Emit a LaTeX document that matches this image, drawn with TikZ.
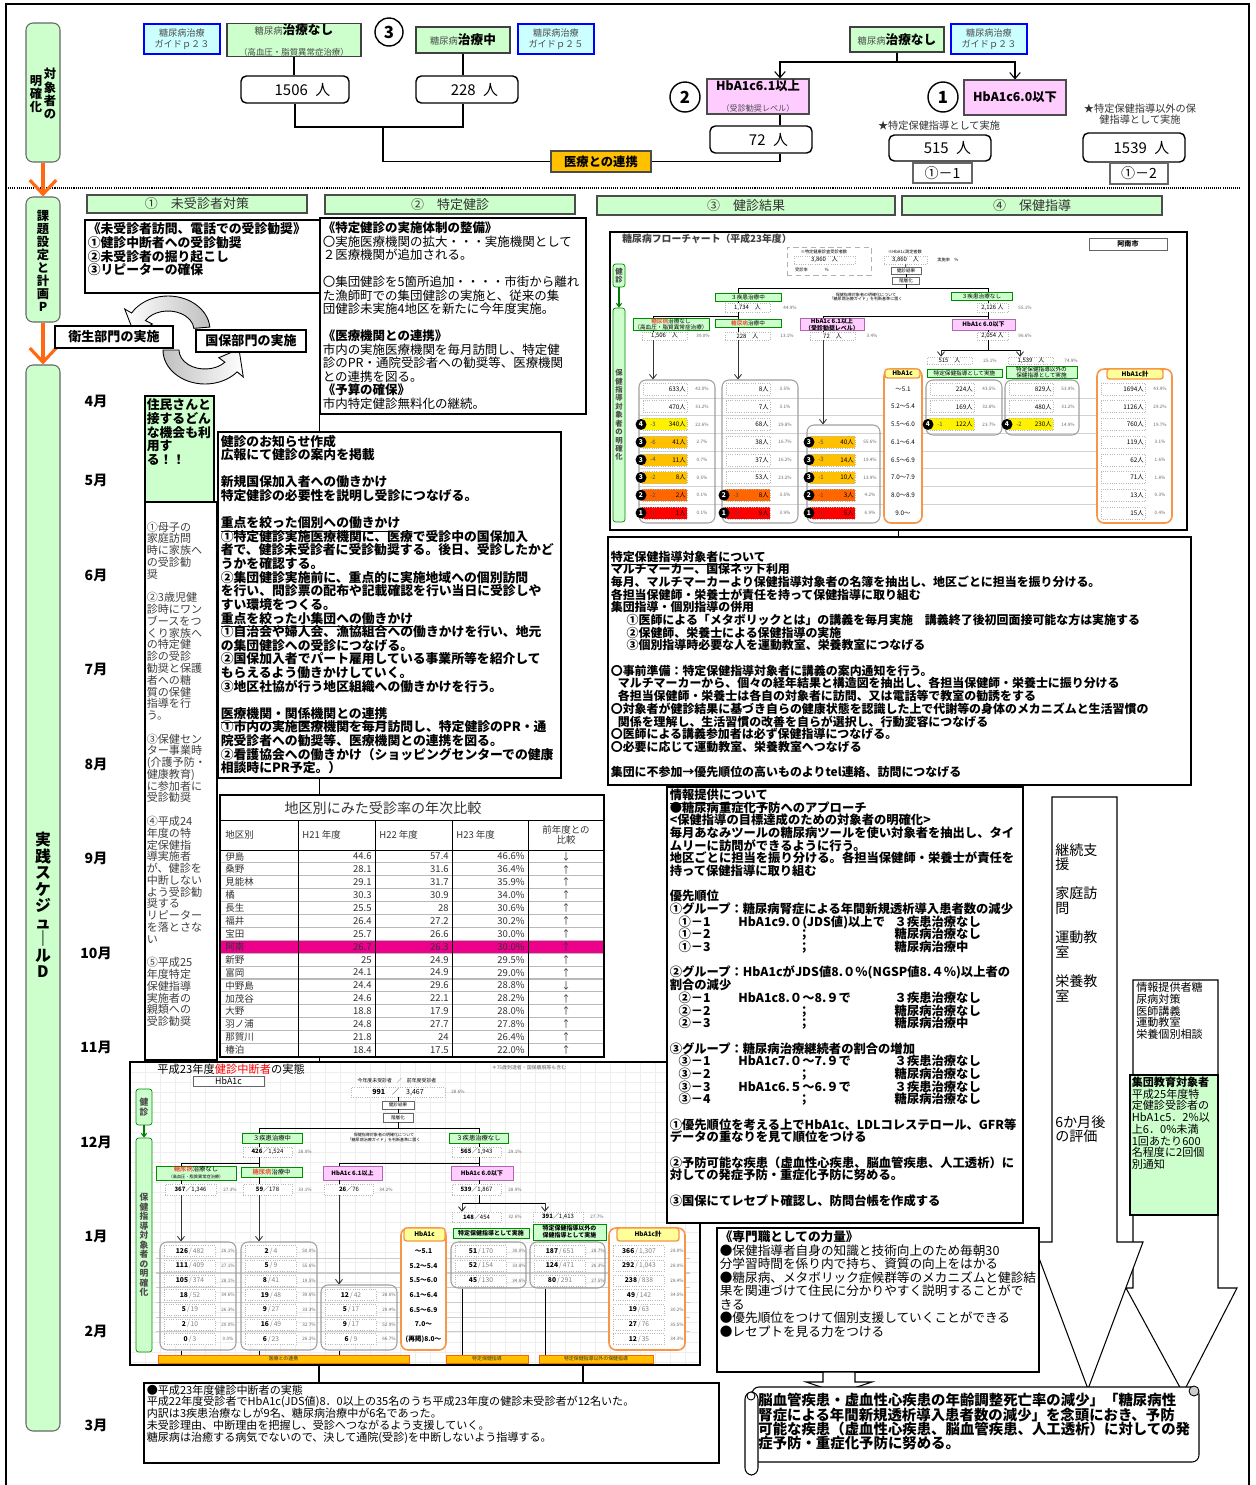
\documentclass[tikz,border=0pt]{standalone}
\usepackage{fontspec}
\setmainfont{Noto Sans CJK JP}
\usetikzlibrary{positioning, calc, arrows.meta, shapes.geometric}
\definecolor{usuMidori}{HTML}{CCFFCC}
\definecolor{usuMizu}{HTML}{CCFFFF}
\definecolor{usuMomo}{HTML}{FFCCFF}
\definecolor{yamabuki}{HTML}{FFC000}
\definecolor{daidai}{HTML}{FF6600}
\definecolor{kiLabel}{HTML}{FFFF99}
\definecolor{hbaWaku}{HTML}{F79646}
\definecolor{yaji}{HTML}{FF6A10}
\setlength\lineskiplimit{-100pt}
\newcommand\fsz[2]{\fontsize{#1}{#2}\selectfont}
% cells of the two flow charts
\newcommand\flowFill[3]{\pgfmathsetmacro\cy{389+17.7*#2}\fill[#3] (#1+3,\cy-6) rectangle (#1+48,\cy+6);}
\newcommand\flowCell[4]{%
  \pgfmathsetmacro\cy{389+17.7*#2}%
  \draw[cellb] (#1+4,\cy-6) rectangle (#1+48,\cy+6);%
  \node[anchor=east, inner sep=0pt, font=\fsz{3.6}{4}] at (#1+47,\cy) {#3};%
  \node[ptxt] at (#1+63,\cy) {#4};}
\newcommand\flowMark[4]{%
  \pgfmathsetmacro\cy{389+17.7*#2}%
  \node[circle, fill=black, text=white, inner sep=0pt, minimum size=0.22cm, font=\fsz{3.8}{4}\bfseries] at (#1+2,\cy) {#3};%
  \node[inner sep=0pt, font=\fsz{3.4}{4}, text=black!70] at (#1+14,\cy) {-#4};}
\newcommand\chuCell[5]{%
  \pgfmathsetmacro\cy{1251+14.7*#2}%
  \draw[cellb, fill=white] (#1+4,\cy-5.5) rectangle (#1+55,\cy+5.5);%
  \node[inner sep=0pt, font=\fsz{3.8}{4}] at (#1+30,\cy) {{\bfseries #3}\,{\color{black!50}/\,#4}};%
  \node[ptxt] at (#1+68,\cy) {#5};}
\newcommand\gyo[3]{\hspace*{5pt}\makebox[34pt][l]{#1}\makebox[89pt][l]{#2}#3}

\begin{document}
\begin{tikzpicture}[x=0.02cm, y=-0.02cm,
    wh/.style 2 args={minimum width=#1*0.02cm, minimum height=#2*0.02cm, inner sep=0pt},
    txt/.style={anchor=north west, inner sep=0pt, align=left},
    waku/.style={draw, line width=0.6pt},
    bluebox/.style={draw=blue, line width=0.9pt, fill=usuMizu, align=center, font=\fsz{5.2}{6.6}, text=black!70},
    grnbox/.style={draw=black!75, line width=0.6pt, fill=usuMidori, align=center},
    pinkbox/.style={draw=black!70, line width=0.6pt, fill=usuMomo, align=center},
    ninzu/.style={draw, line width=0.8pt, rounded corners=3pt, fill=white, font=\fsz{8.5}{9}},
    maru/.style={circle, draw, line width=0.8pt, fill=white, inner sep=0pt, font=\fsz{9.5}{10}\bfseries},
    midashi/.style={draw=black!70, line width=0.6pt, fill=usuMidori, font=\fsz{7.4}{8}, text=black!80},
    tate/.style={draw=black!60, line width=0.6pt, fill=usuMidori, rounded corners=4pt},
    oyaji/.style={yaji, line width=1.8pt, -{Straight Barb[length=8pt, width=15pt, line width=1.8pt]}},
    ten/.style={-{Straight Barb[length=3.5pt, width=6pt]}, line width=0.6pt},
    cellb/.style={draw=gray!55, densely dotted, line width=0.3pt},
    cnt/.style={draw=gray!55, densely dotted, line width=0.3pt, fill=white, font=\fsz{3.4}{4}},
    ptxt/.style={inner sep=0pt, font=\fsz{2.6}{3}, text=black!60},
    glbl/.style={draw=green!55!black, line width=0.3pt, fill=usuMidori, align=center, font=\fsz{3.2}{3.6}},
    plbl/.style={draw=violet!60, line width=0.3pt, fill=usuMomo, align=center, font=\fsz{3.4}{3.8}\bfseries},
    olbl/.style={draw=hbaWaku, line width=0.8pt, fill=kiLabel, rounded corners=1.5pt, font=\fsz{3.6}{4}\bfseries},
    grp/.style={draw=gray!75, line width=0.6pt, rounded corners=4pt},
    hcol/.style={draw=hbaWaku, line width=0.9pt, rounded corners=4pt, fill=white},
    vbar/.style={draw=green!55!black, line width=0.4pt, fill=usuMidori, rounded corners=1.5pt, align=center, font=\fsz{4.2}{4.8}\bfseries, text=black!70},
    farrow/.style={-{Straight Barb[length=2.5pt, width=4pt]}, line width=0.5pt, black!80},
    garrow/.style={-{Straight Barb[length=2pt, width=3pt]}, line width=0.6pt, green!50!black},
    sbox/.style={draw=black!60, line width=0.3pt, fill=white, font=\fsz{2.6}{3}},
    obar/.style={draw=daidai, line width=0.4pt, fill=yamabuki, font=\fsz{2.8}{3}, text=black!80},
    hyo/.style={inner sep=0pt, font=\fsz{5.4}{6}, text=black!80}
  ]
  \useasboundingbox (0,0) rectangle (1255,1485);
  \draw[line width=1.2pt] (6,1485) -- (6,4) -- (1249,4) -- (1249,1485);
  \draw[line width=1.2pt, dash pattern=on 0.6pt off 0.6pt] (6,188) -- (1240,188);

  % ---------- left column
  \node[tate, wh={34}{139}] (taisho) at (43,92.5) {};
  \node[anchor=north, inner sep=0pt, align=center, font=\fsz{7}{7.5}\bfseries] (taisho1) at (50,68) {対\\象\\者\\の};
  \node[anchor=north, inner sep=0pt, align=center, font=\fsz{7}{7.5}\bfseries] (taisho2) at (36,75) {明\\確\\化};
  \node[tate, wh={34}{125}] (kadai) at (43,259.5) {};
  \node[inner sep=0pt, align=center, font=\fsz{7}{7.4}\bfseries] (kadaiT) at (43,261) {課\\題\\設\\定\\と\\計\\画\\P};
  \node[tate, wh={34}{1066}] (jissen) at (43,898) {};
  \node[inner sep=0pt, align=center, font=\fsz{9}{9.4}\bfseries] (jissenT) at (43,905) {実\\践\\ス\\ケ\\ジ\\ュ\\｜\\ル\\D};
  \draw[oyaji] (taisho.south) -- (kadai.north);
  \draw[oyaji] (kadai.south) -- (jissen.north);
  \foreach \m/\yy in {4/401,5/480,6/575,7/669,8/764,9/858,10/953,11/1047,12/1142,1/1236,2/1331,3/1425}
    \node[inner sep=0pt, font=\fsz{8}{8}\bfseries] (tsuki\m) at (96,\yy) {\m{}月};

  % ---------- top: 対象者の明確化
  \node[bluebox, wh={76}{30}] (guide1) at (182,39) {糖尿病治療\\ガイドｐ２３};
  \node[grnbox, wh={134}{26}] (nashi1) at (294,40) {{\fsz{5.3}{6}\color{black!70}糖尿病}{\fsz{7.2}{8}\bfseries 治療なし}\\{\fsz{4.8}{5.6}\color{black!70}（高血圧・脂質異常症治療）}};
  \node[maru, minimum size=0.56cm] (maru3) at (389,32) {3};
  \node[grnbox, wh={94}{26}] (chu1) at (463,40) {{\fsz{5.3}{6}\color{black!70}糖尿病}{\fsz{7.2}{8}\bfseries 治療中}};
  \node[bluebox, wh={76}{30}] (guide2) at (556,39) {糖尿病治療\\ガイドｐ２５};
  \node[ninzu, wh={108}{27}] (n1506) at (295,89.5) {\quad 1506\enspace 人};
  \node[ninzu, wh={102}{27}] (n228) at (467,89.5) {\quad 228\enspace 人};
  \node[draw=black!70, line width=0.6pt, fill=yamabuki, wh={100}{21}, font=\fsz{7}{7}\bfseries] (renkei) at (601,161.5) {医療との連携};
  \draw[line width=0.6pt] (nashi1.south) -- (nashi1.south |- n1506.north);
  \draw[line width=0.6pt] (chu1.south) -- (chu1.south |- n228.north);
  \coordinate (j1) at (383,127);
  \draw[line width=0.6pt] (n1506.south) |- (j1) -| (chu1.south |- n228.south);
  \draw[line width=0.6pt] (j1) |- (renkei.west);

  \node[grnbox, wh={94}{25}] (nashi3) at (897,39.5) {{\fsz{5.3}{6}\color{black!70}糖尿病}{\fsz{7.2}{8}\bfseries 治療なし}};
  \node[bluebox, wh={76}{30}] (guide3) at (989,39) {糖尿病治療\\ガイドｐ２３};
  \node[pinkbox, wh={102}{35}] (p61) at (758,96.5) {{\fsz{7}{7.5}\bfseries HbA1c6.1以上}\\{\fsz{4.6}{5}\color{black!70}（受診勧奨レベル）}};
  \node[pinkbox, wh={102}{35}] (p60) at (1015,97.5) {\fsz{7}{7.5}\bfseries HbA1c6.0以下};
  \node[maru, minimum size=0.6cm] (maru2) at (685,97) {2};
  \node[maru, minimum size=0.6cm] (maru1) at (943,97) {1};
  \coordinate (a61) at (780,62);
  \coordinate (a60) at (1015,62);
  \draw[ten] (nashi3.south) |- (a61) -- (a61 |- p61.north);
  \draw[ten] (nashi3.south) |- (a60) -- (p60.north);
  \node[ninzu, wh={102}{27}] (n72) at (761,139.5) {\quad 72\enspace 人};
  \draw[line width=0.6pt] (a61 |- p61.south) -- (a61 |- n72.north);
  \draw[line width=0.6pt] (a61 |- n72.south) |- (renkei.east);
  \node[inner sep=0pt, font=\fsz{5.8}{6.5}, text=black!80] (hoshi1) at (939,126) {★特定保健指導として実施};
  \node[ninzu, wh={102}{26}] (n515) at (940,148) {\quad 515\enspace 人};
  \node[draw=black!60, line width=0.6pt, fill=white, wh={59}{20}, font=\fsz{8}{8}] (b11) at (942.5,173) {①－1};
  \node[inner sep=0pt, align=center, font=\fsz{5.8}{6.3}, text=black!80] (hoshi2) at (1140,114) {★特定保健指導以外の保\\健指導として実施};
  \node[ninzu, wh={102}{29}] (n1539) at (1134,147.5) {\quad 1539\enspace 人};
  \node[draw=black!60, line width=0.6pt, fill=white, wh={58}{21}, font=\fsz{8}{8}] (b12) at (1139,173.5) {①－2};

  % ---------- section headers
  \node[midashi, wh={220}{18}] (mi1) at (197,204) {①　未受診者対策};
  \node[midashi, wh={250}{19}] (mi2) at (450,204.5) {②　特定健診};
  \node[midashi, wh={298}{19}] (mi3) at (746,205.5) {③　健診結果};
  \node[midashi, wh={260}{19}] (mi4) at (1032,205.5) {④　保健指導};

  % ---------- ① 未受診者対策
  \node[waku, wh={235}{73}] (mijushin) at (202.5,256.5) {};
  \node[txt, font=\fsz{7.3}{7.8}\bfseries] (mijushinT) at ($(mijushin.north west)+(3,3)$) {《未受診者訪問、電話での受診勧奨》\\①健診中断者への受診勧奨\\②未受診者の掘り起こし\\③リピーターの確保};
  % cycle of the two sections
  \coordinate (ct) at (168,330);
  \coordinate (cb) at (205,350);
  \shadedraw[left color=white, right color=gray!50, line width=0.5pt]
    ($(ct)+(-5:42 and 34)$) arc[start angle=-5, end angle=-150, x radius=42, y radius=34]
    -- ($(ct)+(-150:50 and 42)$) -- ($(ct)+(-188:34 and 27)$) -- ($(ct)+(-150:18 and 12)$)
    -- ($(ct)+(-150:26 and 19)$) arc[start angle=-150, end angle=-5, x radius=26, y radius=19] -- cycle;
  \shadedraw[left color=gray!50, right color=white, line width=0.5pt]
    ($(cb)+(180:42 and 34)$) arc[start angle=180, end angle=40, x radius=42, y radius=34]
    -- ($(cb)+(40:50 and 42)$) -- ($(cb)+(-2:34 and 27)$) -- ($(cb)+(40:18 and 12)$)
    -- ($(cb)+(40:26 and 19)$) arc[start angle=40, end angle=180, x radius=26, y radius=19] -- cycle;
  \node[waku, fill=white, wh={118}{22}, font=\fsz{7.4}{8}\bfseries] (eisei) at (114,337) {衛生部門の実施};
  \node[waku, fill=white, wh={110}{22}, font=\fsz{7.4}{8}\bfseries] (kokuho) at (251,341) {国保部門の実施};

  \node[waku, fill=usuMidori, wh={69}{106}] (jumin) at (179.5,449) {};
  \node[txt, font=\fsz{7.3}{7.8}\bfseries] (juminT) at ($(jumin.north west)+(2,3)$) {住民さんと\\接するどん\\な機会も利\\用す\\る！！};
  \node[waku, wh={72}{558}] (hoka) at (181,781) {};
  \node[txt, font=\fsz{6.3}{6.7}, text=black!75] (hokaT) at ($(hoka.north west)+(2,20)$) {①母子の\\家庭訪問\\時に家族へ\\の受診勧\\奨\\~\\②3歳児健\\診時にワン\\ブースをつ\\くり家族へ\\の特定健\\診の受診\\勧奨と保護\\者への糖\\質の保健\\指導を行\\う。\\~\\③保健セン\\ター事業時\\(介護予防・\\健康教育)\\に参加者に\\受診勧奨\\~\\④平成24\\年度の特\\定保健指\\導実施者\\が、健診を\\中断しない\\よう受診勧\\奨する\\リピーター\\を落とさな\\い\\~\\⑤平成25\\年度特定\\保健指導\\実施者の\\親類への\\受診勧奨};

  % ---------- ② 特定健診
  \node[waku, wh={266}{196}] (taisei) at (453,316) {};
  \node[txt, font=\fsz{7.1}{7.7}] (taiseiT) at ($(taisei.north west)+(3,4)$) {{\bfseries 《特定健診の実施体制の整備》}\\〇実施医療機関の拡大・・・実施機関として\\２医療機関が追加される。\\~\\〇集団健診を5箇所追加・・・・市街から離れ\\た漁師町での集団健診の実施と、従来の集\\団健診未実施4地区を新たに今年度実施。\\~\\{\bfseries 《医療機関との連携》}\\市内の実施医療機関を毎月訪問し、特定健\\診のPR・通院受診者への勧奨等、医療機関\\との連携を図る。\\{\bfseries 《予算の確保》}\\市内特定健診無料化の継続。};
  \node[waku, wh={343}{346}] (oshirase) at (389.5,605) {};
  \node[txt, font=\fsz{7.3}{7.75}\bfseries] (oshiraseT) at ($(oshirase.north west)+(3,3)$) {健診のお知らせ作成\\広報にて健診の案内を掲載\\~\\新規国保加入者への働きかけ\\特定健診の必要性を説明し受診につなげる。\\~\\\underline{重点を絞った個別への働きかけ}\\①特定健診実施医療機関に、医療で受診中の国保加入\\者で、健診未受診者に受診勧奨する。後日、受診したかど\\うかを確認する。\\②集団健診実施前に、重点的に実施地域への個別訪問\\を行い、問診票の配布や記載確認を行い当日に受診しや\\すい環境をつくる。\\\underline{重点を絞った小集団への働きかけ}\\①自治会や婦人会、漁協組合への働きかけを行い、地元\\の集団健診への受診につなげる。\\②国保加入者でパート雇用している事業所等を紹介して\\もらえるよう働きかけしていく。\\③地区社協が行う地区組織への働きかけを行う。\\~\\\underline{医療機関・関係機関との連携}\\①市内の実施医療機関を毎月訪問し、特定健診のPR・通\\院受診者への勧奨等、医療機関との連携を図る。\\②看護協会への働きかけ（ショッピングセンターでの健康\\相談時にPR予定。）};
  \draw[line width=0.6pt] (taisei.south west) -- (taisei.south west |- oshirase.north);

  % table
  \node[draw, line width=0.6pt, fill=white, wh={384}{262}] (hikaku) at (412,926) {};
  \draw[line width=0.6pt] (taisei.south west |- oshirase.south) -- (taisei.south west |- hikaku.north);
  \node[inner sep=0pt, font=\fsz{8}{8}, text=black!80] (hikakuT) at (383,808.5) {地区別にみた受診率の年次比較};
  \fill[magenta] (221,940.3) rectangle (603,953.2);
  \foreach \k in {1,...,15} \draw[gray!55, line width=0.6pt] (221,{850+12.9*\k}) -- (603,{850+12.9*\k});
  \draw[line width=0.5pt] (220,820) -- (604,820);
  \draw[line width=0.5pt] (220,850) -- (604,850);
  \foreach \cx in {298,375,452,528} \draw[line width=0.5pt] (\cx,820) -- (\cx,1057);
  \node[hyo, anchor=west] (hd1) at (225,835) {地区別};
  \node[hyo, anchor=west] (hd2) at (302,835) {H21 年度};
  \node[hyo, anchor=west] (hd3) at (379,835) {H22 年度};
  \node[hyo, anchor=west] (hd4) at (456,835) {H23 年度};
  \node[hyo, align=center] (hd5) at (566,835) {前年度との\\比較};
  \foreach \nm/\a/\b/\c/\d [count=\i from 0] in {伊島/44.6/57.4/46.6\%/↓, 桑野/28.1/31.6/36.4\%/↑, 見能林/29.1/31.7/35.9\%/↑, 橘/30.3/30.9/34.0\%/↑, 長生/25.5/28/30.6\%/↑, 福井/26.4/27.2/30.2\%/↑, 宝田/25.7/26.6/30.0\%/↑, 阿南/26.7/26.3/30.0\%/↑, 新野/25/24.9/29.5\%/↑, 富岡/24.1/24.9/29.0\%/↑, 中野島/24.4/29.6/28.8\%/↓, 加茂谷/24.6/22.1/28.2\%/↑, 大野/18.8/17.9/28.0\%/↑, 羽ノ浦/24.8/27.7/27.8\%/↑, 那賀川/21.8/24/26.4\%/↑, 椿泊/18.4/17.5/22.0\%/↑} {
    \node[hyo, anchor=west] (ku\i) at (225,{856.5+12.9*\i}) {\nm};
    \node[hyo, anchor=east] (h21\i) at (372,{856.5+12.9*\i}) {\a};
    \node[hyo, anchor=east] (h22\i) at (449,{856.5+12.9*\i}) {\b};
    \node[hyo, anchor=east] (h23\i) at (525,{856.5+12.9*\i}) {\c};
    \node[hyo] (hk\i) at (566,{856.5+12.9*\i}) {\d};
  }

  % ---------- ③ 健診結果: 糖尿病フローチャート
  \node[draw, line width=0.6pt, fill=white, wh={577}{298}] (flow1) at (898.5,381) {};
  \node[txt, font=\fsz{5.6}{6}\bfseries, text=black!75] (f1title) at (622,234) {糖尿病フローチャート（平成23年度）};
  \node[draw=black!60, line width=0.4pt, wh={78}{12}, font=\fsz{4}{4.5}\bfseries] (f1shi) at (1128,244) {阿南市};
  \node[vbar, wh={12}{23}] (f1ken) at (619,275.5) {健\\診};
  \node[vbar, wh={12}{214}] (f1meikaku) at (619,415) {保\\健\\指\\導\\対\\象\\者\\の\\明\\確\\化};
  \draw[garrow] (f1ken) -- (f1meikaku);
  \node[draw=gray!60, densely dashed, line width=0.3pt, wh={84}{28}] (f1grpA) at (829,261) {};
  \node[inner sep=0pt, font=\fsz{2.4}{3}] (f1l1) at (824,251.5) {※特定健康診査受診者数};
  \node[cnt, wh={61}{8}] (f1jushin) at (824.5,260) {3,860　人};
  \node[inner sep=0pt, font=\fsz{2.4}{3}] (f1l2) at (812,270) {受診率　　　　％};
  \node[inner sep=0pt, font=\fsz{2.4}{3}] (f1l3) at (905,251.5) {※HbA1c測定者数};
  \node[cnt, wh={43}{8}] (f1hba) at (905.5,260) {3,860　人};
  \node[inner sep=0pt, font=\fsz{2.4}{3}] (f1l4) at (948,260) {実施率　％};
  \node[sbox, wh={30}{7}] (f1kekka) at (906,270.5) {健診結果};
  \node[sbox, wh={27}{7}] (f1kaiso) at (906,280.5) {階層化};
  \node[inner sep=0pt, align=center, font=\fsz{2.3}{2.8}] (f1note) at (866,297) {保健指導対象者の明確化について\\「糖尿病治療ガイド」を判断基準に置く};
  \draw[line width=0.4pt] (f1hba) -- (f1kekka);
  \draw[line width=0.4pt] (f1kekka) -- (f1kaiso);
  \node[glbl, wh={66}{8}] (f1chu) at (748,297) {３疾患治療中};
  \node[glbl, wh={61}{8}] (f1nashi) at (981.5,296.5) {３疾患治療なし};
  \coordinate (f1L) at (738,288);
  \coordinate (f1R) at (988,288);
  \draw[line width=0.4pt] (f1kaiso.south) |- (f1L) -- (f1L |- f1chu.north);
  \draw[line width=0.4pt] (f1kaiso.south) |- (f1R) -- (f1R |- f1nashi.north);
  \node[cnt, wh={45}{9}] (f1n1734) at (747.5,307.5) {1,734　人};
  \node[ptxt] (f1q1) at (790,307.5) {44.9\%};
  \node[cnt, wh={31}{9}] (f1n2126) at (992.5,307.5) {2,126 人};
  \node[ptxt] (f1q2) at (1025,307.5) {55.1\%};
  \draw[line width=0.4pt] (f1L |- f1chu.south) -- (f1L |- f1n1734.north);
  \draw[line width=0.4pt] (f1R |- f1nashi.south) -- (f1R |- f1n2126.north);
  \node[glbl, wh={76}{11}] (f1dmn) at (671,324.5) {{\color{red}糖尿病}治療なし\\（高血圧・脂質異常症治療）};
  \node[glbl, wh={66}{8}] (f1dmc) at (748,323) {{\color{red}糖尿病}治療中};
  \node[plbl, wh={64}{11}] (f1p61) at (832,324.5) {HbA1c 6.1以上\\（受診勧奨レベル）};
  \node[plbl, wh={63}{11}] (f1p60) at (983.5,324.5) {HbA1c 6.0以下};
  \coordinate (f1a) at (653,316);
  \coordinate (f1c) at (823,316);
  \draw[line width=0.4pt] (f1L |- f1n1734.south) -- (f1L |- f1a) -- (f1a) -- (f1a |- f1dmn.north);
  \draw[line width=0.4pt] (f1L |- f1a) -- (f1L |- f1dmc.north);
  \draw[line width=0.4pt] (f1R |- f1n2126.south) -- (f1R |- f1c) -- (f1c) -- (f1c |- f1p61.north);
  \draw[line width=0.4pt] (f1R |- f1c) -- (f1R |- f1p60.north);
  \node[cnt, wh={45}{8}] (f1n1506) at (664.5,336) {1,506　人};
  \node[ptxt] (f1q3) at (703,336) {39.0\%};
  \node[cnt, wh={45}{8}] (f1n228) at (747.5,336) {228　人};
  \node[ptxt] (f1q4) at (787,336) {13.1\%};
  \node[cnt, wh={45}{8}] (f1n72) at (832.5,336) {72　人};
  \node[ptxt] (f1q5) at (872,336) {3.4\%};
  \node[cnt, wh={31}{8}] (f1n2054) at (992.5,336) {2,054 人};
  \node[ptxt] (f1q6) at (1025,336) {96.6\%};
  \draw[line width=0.4pt] (f1a |- f1dmn.south) -- (f1a |- f1n1506.north);
  \draw[line width=0.4pt] (f1L |- f1dmc.south) -- (f1L |- f1n228.north);
  \draw[line width=0.4pt] (f1c |- f1p61.south) -- (f1c |- f1n72.north);
  \draw[line width=0.4pt] (f1R |- f1p60.south) -- (f1R |- f1n2054.north);
  \coordinate (f1d) at (941,350);
  \coordinate (f1e) at (1020,350);
  \draw[line width=0.4pt] (f1R |- f1n2054.south) -- (f1R |- f1d);
  \draw[line width=0.4pt] (f1d) -- (f1e);
  \node[cnt, wh={45}{7}] (f1n515) at (949.5,360.5) {515　人};
  \node[ptxt] (f1q7) at (990,360.5) {25.1\%};
  \node[cnt, wh={45}{7}] (f1n1539) at (1031,360.5) {1,539　人};
  \node[ptxt] (f1q8) at (1071,360.5) {74.9\%};
  \draw[farrow] (f1d) -- (f1d |- f1n515.north);
  \draw[farrow] (f1e) -- (f1e |- f1n1539.north);
  \foreach \r in {1,...,7} \draw[gray!35, line width=0.4pt] (639,{380.15+17.7*\r}) -- (1172,{380.15+17.7*\r});
  \node[hcol, wh={38}{154}] (f1hcol) at (903,446) {};
  \node[hcol, wh={75}{154}] (f1hkcol) at (1134.5,446) {};
  \node[grp, wh={76}{143}] (f1g1) at (677,451.5) {};
  \node[grp, wh={76}{143}] (f1g2) at (760,451.5) {};
  \node[grp, wh={73}{98}] (f1g3) at (843.5,474) {};
  \node[grp, wh={76}{55}] (f1g5) at (964,407.5) {};
  \node[grp, wh={74}{55}] (f1g6) at (1042,407.5) {};
  \node[olbl, wh={35}{9}] (f1hlab) at (902.5,373.5) {HbA1c};
  \node[glbl, wh={75}{8}] (f1tok) at (964.5,373) {特定保健指導として実施};
  \node[glbl, wh={71}{11}] (f1igai) at (1041.5,372.5) {特定保健指導以外の\\保健指導として実施};
  \node[olbl, wh={56}{10}] (f1hkei) at (1135,374) {HbA1c計};
  \draw[farrow] (f1a |- f1n1506.south) -- (f1a |- f1g1.north);
  \draw[farrow] (f1L |- f1n228.south) -- (f1L |- f1g2.north);
  \draw[farrow] (f1c |- f1n72.south) -- (f1c |- f1g3.north);
  \flowFill{639}{2}{yellow} \flowFill{639}{3}{yamabuki} \flowFill{639}{4}{yamabuki} \flowFill{639}{5}{yamabuki}
  \flowFill{639}{6}{daidai} \flowFill{639}{7}{red}
  \flowFill{722}{6}{daidai} \flowFill{722}{7}{red}
  \flowFill{807}{3}{yamabuki} \flowFill{807}{4}{yamabuki} \flowFill{807}{5}{yamabuki} \flowFill{807}{6}{daidai} \flowFill{807}{7}{red}
  \flowFill{926}{2}{yellow} \flowFill{1005}{2}{yellow}
  \foreach \v/\p [count=\r from 0] in {633人/42.0\%, 470人/31.2\%, 340人/22.6\%, 41人/2.7\%, 11人/0.7\%, 8人/0.5\%, 2人/0.1\%, 1人/0.1\%} {\flowCell{639}{\r}{\v}{\p}}
  \foreach \v/\p [count=\r from 0] in {8人/3.5\%, 7人/3.1\%, 68人/29.8\%, 38人/16.7\%, 37人/16.2\%, 53人/23.2\%, 8人/3.5\%, 9人/3.9\%} {\flowCell{722}{\r}{\v}{\p}}
  \foreach \v/\p [count=\r from 3] in {40人/55.6\%, 14人/19.4\%, 10人/13.9\%, 3人/4.2\%, 5人/6.9\%} {\flowCell{807}{\r}{\v}{\p}}
  \foreach \v/\p [count=\r from 0] in {224人/43.5\%, 169人/32.8\%, 122人/23.7\%} {\flowCell{926}{\r}{\v}{\p}}
  \foreach \v/\p [count=\r from 0] in {829人/53.9\%, 480人/31.2\%, 230人/14.9\%} {\flowCell{1005}{\r}{\v}{\p}}
  \foreach \v/\p [count=\r from 0] in {1694人/43.9\%, 1126人/29.2\%, 760人/19.7\%, 119人/3.1\%, 62人/1.6\%, 71人/1.8\%, 13人/0.3\%, 15人/0.4\%} {\flowCell{1097}{\r}{\v}{\p}}
  \foreach \t [count=\r from 0] in {～5.1, 5.2～5.4, 5.5～6.0, 6.1～6.4, 6.5～6.9, 7.0～7.9, 8.0～8.9, 9.0～}
    \node[inner sep=0pt, font=\fsz{3.6}{4}] (f1h\r) at (903,{389+17.7*\r}) {\t};
  \flowMark{639}{2}{4}{3} \flowMark{639}{3}{3}{6} \flowMark{639}{4}{3}{4} \flowMark{639}{5}{3}{2} \flowMark{639}{6}{2}{2} \flowMark{639}{7}{1}{2}
  \flowMark{722}{6}{2}{3} \flowMark{722}{7}{1}{3}
  \flowMark{807}{3}{3}{5} \flowMark{807}{4}{3}{3} \flowMark{807}{5}{3}{1} \flowMark{807}{6}{2}{1} \flowMark{807}{7}{1}{1}
  \flowMark{926}{2}{4}{1} \flowMark{1005}{2}{4}{2}

  % ---------- 平成23年度健診中断者の実態
  \node[draw, line width=0.6pt, fill=white, wh={570}{303}] (c2frame) at (415,1213.5) {};
  \draw[line width=0.6pt] (taisei.south west |- hikaku.south) -- (taisei.south west |- c2frame.north);
  \foreach \gx in {145,160,...,685} \draw[gray!13, line width=0.3pt] (\gx,1063) -- (\gx,1364);
  \foreach \gy in {1072,1082,...,1362} \draw[gray!13, line width=0.3pt] (131,\gy) -- (699,\gy);
  \node[txt, font=\fsz{6.4}{7}] (c2title) at (157,1064) {平成23年度{\color{red}健診中断者}の実態};
  \node[inner sep=0pt, font=\fsz{2.8}{3}, text=black!60] (c2chu1) at (529,1068) {＊75歳到達者・国保離脱等も含む};
  \node[draw=black!60, line width=0.4pt, fill=white, wh={71}{10}, font=\fsz{5}{5}] (c2hba) at (228.5,1081.5) {HbA1c};
  \node[vbar, wh={16}{36}, font=\fsz{5}{5.4}\bfseries] (c2ken) at (144,1107) {健\\診};
  \node[vbar, wh={16}{214}, font=\fsz{5}{5.4}\bfseries] (c2meikaku) at (144,1245) {保\\健\\指\\導\\対\\象\\者\\の\\明\\確\\化};
  \draw[garrow] (c2ken) -- (c2meikaku);
  \node[inner sep=0pt, font=\fsz{2.8}{3}] (c2lab) at (397,1081) {今年度未受診者　／　前年度受診者};
  \node[cnt, wh={94}{10}, font=\fsz{4}{4}] (c2n991) at (398,1092) {{\bfseries 991}　／　3,467};
  \node[ptxt] (c2q0) at (458,1092) {28.6\%};
  \node[sbox, wh={32}{8}] (c2kekka) at (398,1105) {健診結果};
  \node[sbox, wh={30}{9}] (c2kaiso) at (398,1117.5) {階層化};
  \draw[line width=0.4pt] (c2n991) -- (c2kekka);
  \draw[line width=0.4pt] (c2kekka) -- (c2kaiso);
  \node[inner sep=0pt, align=center, font=\fsz{2.3}{2.8}] (c2note) at (384,1137) {保健指導対象者の明確化について\\「糖尿病治療ガイド」を判断基準に置く};
  \node[glbl, wh={60}{10}, font=\fsz{3.6}{4}] (c2chu) at (272,1138) {３疾患治療中};
  \node[glbl, wh={59}{10}, font=\fsz{3.6}{4}] (c2nashi) at (478.5,1138) {３疾患治療なし};
  \coordinate (c2L) at (259,1128);
  \coordinate (c2R) at (479,1128);
  \draw[line width=0.4pt] (c2kaiso.south) |- (c2L) -- (c2L |- c2chu.north);
  \draw[line width=0.4pt] (c2kaiso.south) |- (c2R) -- (c2R |- c2nashi.north);
  \node[cnt, wh={49}{10}] (c2n426) at (267.5,1152) {{\bfseries 426}／1,524};
  \node[ptxt] (c2q1) at (305,1152) {28.0\%};
  \node[cnt, wh={49}{10}] (c2n565) at (476.5,1152) {{\bfseries 565}／1,943};
  \node[ptxt] (c2q2) at (515,1152) {29.1\%};
  \draw[line width=0.4pt] (c2L |- c2chu.south) -- (c2L |- c2n426.north);
  \draw[line width=0.4pt] (c2R |- c2nashi.south) -- (c2R |- c2n565.north);
  \node[glbl, wh={80}{14}, font=\fsz{3.6}{4}] (c2dmn) at (196,1173) {{\color{red}糖尿病}治療なし\\{\fsz{2.4}{3}（高血圧・脂質異常症治療）}};
  \node[glbl, wh={61}{10}, font=\fsz{3.6}{4}] (c2dmc) at (271.5,1172) {{\color{red}糖尿病}治療中};
  \node[plbl, wh={59}{14}] (c2p61) at (352.5,1173) {HbA1c 6.1以上};
  \node[plbl, wh={62}{14}] (c2p60) at (482,1173) {HbA1c 6.0以下};
  \coordinate (c2a) at (181,1163);
  \coordinate (c2c) at (339,1163);
  \draw[line width=0.4pt] (c2L |- c2n426.south) -- (c2L |- c2a) -- (c2a) -- (c2a |- c2dmn.north);
  \draw[line width=0.4pt] (c2L |- c2a) -- (c2L |- c2dmc.north);
  \draw[line width=0.4pt] (c2R |- c2n565.south) -- (c2R |- c2c) -- (c2c) -- (c2c |- c2p61.north);
  \draw[line width=0.4pt] (c2R |- c2c) -- (c2R |- c2p60.north);
  \node[cnt, wh={51}{11}] (c2n367) at (190.5,1189.5) {{\bfseries 367}／1,346};
  \node[ptxt] (c2q3) at (230,1189.5) {27.3\%};
  \node[cnt, wh={49}{11}] (c2n59) at (267.5,1189.5) {{\bfseries 59}／178};
  \node[ptxt] (c2q4) at (305,1189.5) {33.1\%};
  \node[cnt, wh={49}{11}] (c2n26) at (349,1189.5) {{\bfseries 26}／76};
  \node[ptxt] (c2q5) at (386,1189.5) {34.2\%};
  \node[cnt, wh={49}{11}] (c2n539) at (476.5,1189.5) {{\bfseries 539}／1,867};
  \node[ptxt] (c2q6) at (515,1189.5) {28.9\%};
  \draw[line width=0.4pt] (c2a |- c2dmn.south) -- (c2a |- c2n367.north);
  \draw[line width=0.4pt] (c2L |- c2dmc.south) -- (c2L |- c2n59.north);
  \draw[line width=0.4pt] (c2c |- c2p61.south) -- (c2c |- c2n26.north);
  \draw[line width=0.4pt] (c2R |- c2p60.south) -- (c2R |- c2n539.north);
  \coordinate (c2d) at (462,1203);
  \coordinate (c2e) at (545,1203);
  \draw[line width=0.4pt] (c2R |- c2n539.south) -- (c2R |- c2d);
  \draw[line width=0.4pt] (c2d) -- (c2e);
  \node[cnt, wh={49}{10}] (c2n148) at (476.5,1217) {{\bfseries 148}／454};
  \node[ptxt] (c2q7) at (515,1217) {32.6\%};
  \node[cnt, wh={50}{10}] (c2n391) at (558,1217) {{\bfseries 391}／1,413};
  \node[ptxt] (c2q8) at (597,1217) {27.7\%};
  \draw[farrow] (c2d) -- (c2d |- c2n148.north);
  \draw[farrow] (c2e) -- (c2e |- c2n391.north);
  \foreach \r in {1,...,6} \draw[gray!40, line width=0.7pt] (156,{1243.65+14.7*\r}) -- (690,{1243.65+14.7*\r});
  \node[hcol, wh={45}{122}] (c2hcol) at (423.5,1289) {};
  \node[hcol, wh={76}{122}] (c2hkcol) at (647,1289) {};
  \node[grp, wh={76}{108}] (c2g1) at (198,1296) {};
  \node[grp, wh={76}{108}] (c2g2) at (279,1296) {};
  \node[grp, wh={76}{65}] (c2g3) at (359,1317.5) {};
  \node[grp, wh={75}{46}] (c2g5) at (488.5,1265) {};
  \node[grp, wh={75}{46}] (c2g6) at (567.5,1265) {};
  \node[olbl, wh={41}{13}] (c2hlab) at (424.5,1234.5) {HbA1c};
  \node[glbl, wh={76}{10}, font=\fsz{3.4}{3.8}\bfseries] (c2tok) at (491,1233) {特定保健指導として実施};
  \node[glbl, wh={73}{16}, font=\fsz{3.4}{3.8}\bfseries] (c2igai) at (569.5,1232) {特定保健指導以外の\\保健指導として実施};
  \node[olbl, wh={62}{13}] (c2hkei) at (648,1234.5) {HbA1c計};
  \draw[farrow] (c2a |- c2n367.south) -- (c2a |- c2g1.north);
  \draw[farrow] (c2L |- c2n59.south) -- (c2L |- c2g2.north);
  \draw[farrow] (c2c |- c2n26.south) -- (c2c |- c2g3.north);
  \foreach \a/\b/\p [count=\r from 0] in {126/482/26.1\%, 111/409/27.1\%, 105/374/28.1\%, 18/52/34.6\%, 5/19/26.3\%, 2/10/20.0\%, 0/3/0.0\%} {\chuCell{160}{\r}{\a}{\b}{\p}}
  \foreach \a/\b/\p [count=\r from 0] in {2/4/50.0\%, 5/9/55.6\%, 8/41/19.5\%, 19/48/39.6\%, 9/27/33.3\%, 16/49/32.7\%, 6/23/26.1\%} {\chuCell{241}{\r}{\a}{\b}{\p}}
  \foreach \a/\b/\p [count=\r from 3] in {12/42/28.6\%, 5/17/29.4\%, 9/17/52.9\%, 6/9/66.7\%} {\chuCell{321}{\r}{\a}{\b}{\p}}
  \foreach \a/\b/\p [count=\r from 0] in {51/170/30.0\%, 52/154/33.8\%, 45/130/34.6\%} {\chuCell{451}{\r}{\a}{\b}{\p}}
  \foreach \a/\b/\p [count=\r from 0] in {187/651/28.7\%, 124/471/26.3\%, 80/291/27.5\%} {\chuCell{530}{\r}{\a}{\b}{\p}}
  \foreach \a/\b/\p [count=\r from 0] in {366/{1,307}/28.0\%, 292/{1,043}/28.0\%, 238/838/28.4\%, 49/142/34.5\%, 19/63/30.2\%, 27/76/35.5\%, 12/35/34.3\%} {\chuCell{609}{\r}{\a}{\b}{\p}}
  \foreach \t [count=\r from 0] in {～5.1, 5.2～5.4, 5.5～6.0, 6.1～6.4, 6.5～6.9, 7.0～, (再掲)8.0～}
    \node[inner sep=0pt, font=\fsz{3.8}{4}\bfseries] (c2h\r) at (423.5,{1251+14.7*\r}) {\t};
  \draw[line width=0.4pt] (c2a |- c2g1.south) -- (c2a |- c2frame.south);
  \draw[line width=0.4pt] (c2L |- c2g2.south) -- (c2L |- c2frame.south);
  \draw[line width=0.4pt] (c2c |- c2g3.south) -- (c2c |- c2frame.south);
  \draw[line width=0.4pt] (c2d |- c2g5.south) -- (c2d |- c2frame.south);
  \draw[line width=0.4pt] (c2e |- c2g6.south) -- (c2e |- c2frame.south);
  \node[obar, wh={251}{8}] (c2bar1) at (283.5,1359) {医療との連携};
  \node[obar, wh={82}{8}] (c2bar2) at (487,1359) {特定保健指導};
  \node[obar, wh={114}{8}] (c2bar3) at (596,1359) {特定保健指導以外の保健指導};

  % bottom note
  \node[waku, wh={575}{80}] (chudan) at (431.5,1423) {};
  \coordinate (c2k1) at (319,1374);
  \coordinate (c2k2) at (583,1374);
  \draw[line width=0.6pt] (c2k1 |- c2frame.south) -- (c2k1 |- chudan.north);
  \draw[line width=0.6pt] (c2k2 |- c2frame.south) -- (c2k2 |- chudan.north);
  \node[txt, font=\fsz{6.3}{6.7}] (chudanT) at ($(chudan.north west)+(3,2)$) {●平成23年度健診中断者の実態\\平成22年度受診者でHbA1c(JDS値)8．0以上の35名のうち平成23年度の健診未受診者が12名いた。\\内訳は3疾患治療なしが9名、糖尿病治療中が6名であった。\\未受診理由、中断理由を把握し、受診へつながるよう支援していく。\\糖尿病は治癒する病気でないので、決して通院(受診)を中断しないよう指導する。};

  % ---------- ④ 保健指導
  \node[waku, wh={583}{248}] (tokutei) at (899.5,661) {};
  \draw[line width=0.6pt] (flow1.south) -- (flow1.south |- tokutei.north);
  \node[txt, font=\fsz{6.8}{7.22}\bfseries] (tokuteiT) at ($(tokutei.north west)+(3,14)$) {\underline{特定保健指導対象者について}\\マルチマーカー、国保ネット利用\\毎月、マルチマーカーより保健指導対象者の名簿を抽出し、地区ごとに担当を振り分ける。\\各担当保健師・栄養士が責任を持って保健指導に取り組む\\集団指導・個別指導の併用\\\hspace*{9pt}①医師による「メタボリックとは」の講義を毎月実施　講義終了後初回面接可能な方は実施する\\\hspace*{9pt}②保健師、栄養士による保健指導の実施\\\hspace*{9pt}③個別指導時必要な人を運動教室、栄養教室につなげる\\~\\〇事前準備：特定保健指導対象者に講義の案内通知を行う。\\\hspace*{4pt}マルチマーカーから、個々の経年結果と構造図を抽出し、各担当保健師・栄養士に振り分ける\\\hspace*{4pt}各担当保健師・栄養士は各自の対象者に訪問、又は電話等で教室の勧誘をする\\〇対象者が健診結果に基づき自らの健康状態を認識した上で代謝等の身体のメカニズムと生活習慣の\\\hspace*{4pt}関係を理解し、生活習慣の改善を自らが選択し、行動変容につなげる\\〇医師による講義参加者は必ず保健指導につなげる。\\〇必要に応じて運動教室、栄養教室へつなげる\\~\\集団に不参加→優先順位の高いものよりtel連絡、訪問につなげる};
  \node[waku, fill=white, wh={356}{436}] (joho) at (845,1005) {};
  \node[txt, font=\fsz{7}{7.22}\bfseries] (johoT) at ($(joho.north west)+(3,2)$) {\underline{情報提供について}\\●糖尿病重症化予防へのアプローチ\\<保健指導の目標達成のための対象者の明確化>\\毎月あなみツールの糖尿病ツールを使い対象者を抽出し、タイ\\ムリーに訪問ができるように行う。\\地区ごとに担当を振り分ける。各担当保健師・栄養士が責任を\\持って保健指導に取り組む\\~\\優先順位\\①グループ：糖尿病腎症による年間新規透析導入患者数の減少\\\gyo{①－1}{HbA1c9.０(JDS値)以上で}{３疾患治療なし}\\\gyo{①－2}{\hspace*{34pt}；}{糖尿病治療なし}\\\gyo{①－3}{\hspace*{34pt}；}{糖尿病治療中}\\~\\②グループ：HbA1cがJDS値8.０％(NGSP値8.４％)以上者の\\割合の減少\\\gyo{②－1}{HbA1c8.０～8.９で}{３疾患治療なし}\\\gyo{②－2}{\hspace*{34pt}；}{糖尿病治療なし}\\\gyo{②－3}{\hspace*{34pt}；}{糖尿病治療中}\\~\\③グループ：糖尿病治療継続者の割合の増加\\\gyo{③－1}{HbA1c7.０～7.９で}{３疾患治療なし}\\\gyo{③－2}{\hspace*{34pt}；}{糖尿病治療なし}\\\gyo{③－3}{HbA1c6.５～6.９で}{３疾患治療なし}\\\gyo{③－4}{\hspace*{34pt}；}{糖尿病治療なし}\\~\\①優先順位を考える上でHbA1c、LDLコレステロール、GFR等\\データの重なりを見て順位をつける\\~\\②予防可能な疾患（虚血性心疾患、脳血管疾患、人工透析）に\\対しての発症予防・重症化予防に努める。\\~\\③国保にてレセプト確認し、防問台帳を作成する};

  % right-hand arrows
  \draw[line width=0.6pt, fill=white] (1133,980) -- (1218,980) -- (1218,1288) -- (1237,1288) -- (1183,1393) -- (1126,1288) -- (1133,1288) -- cycle;
  \draw[line width=0.6pt, fill=white] (1052,797) -- (1117,797) -- (1117,1242) -- (1143,1242) -- (1088,1389) -- (1033,1242) -- (1052,1242) -- cycle;
  \node[txt, font=\fsz{8}{8.3}] (keizoku) at (1055,843) {継続支\\援\\~\\家庭訪\\問\\~\\運動教\\室\\~\\栄養教\\室};
  \node[txt, font=\fsz{8}{8.3}] (hyoka) at (1055,1115) {6か月後\\の評価};
  \node[txt, font=\fsz{6.3}{6.7}] (johoteikyo) at (1136,982) {情報提供者糖\\尿病対策\\医師講義\\運動教室\\栄養個別相談};
  \node[waku, fill=usuMidori, wh={88}{140}] (shudan) at (1174,1145) {};
  \node[txt, font=\fsz{6.3}{6.7}] (shudanT) at ($(shudan.north west)+(2,2)$) {{\bfseries 集団教育対象者}\\平成25年度特\\定健診受診者の\\HbA1c5．2\%以\\上6．0\%未満\\1回あたり600\\名程度に2回個\\別通知};

  % 専門職としての力量
  \node[waku, fill=white, wh={322}{144}] (senmon) at (878,1300) {};
  \node[txt, font=\fsz{7.2}{7.7}] (senmonT) at ($(senmon.north west)+(3,3)$) {{\bfseries 《専門職としての力量》}\\●保健指導者自身の知識と技術向上のため毎朝30\\分学習時間を係り内で持ち、資質の向上をはかる\\●糖尿病、メタボリック症候群等のメカニズムと健診結\\果を関連づけて住民に分かりやすく説明することがで\\きる\\●優先順位をつけて個別支援していくことができる\\●レセプトを見る力をつける};
  \draw[line width=0.6pt, fill=white] (823,1372) -- (855,1372) -- (855,1382) -- (872,1382) -- (839,1393) -- (806,1382) -- (823,1382) -- cycle;
  % scroll
  \draw[line width=0.6pt, fill=white, rounded corners=4pt] (752,1387) rectangle (1199,1462);
  \draw[line width=0.6pt, fill=white, rounded corners=4pt] (745,1392) rectangle (758,1475);
  \draw[line width=0.5pt, fill=white] (751,1396) circle [radius=0.08cm];
  \draw[line width=0.5pt, fill=gray!40] (1194,1391) circle [radius=0.1cm];
  \node[txt, font=\fsz{8.2}{8.15}\bfseries] (makimono) at (758,1393) {脳血管疾患・虚血性心疾患の年齢調整死亡率の減少」「糖尿病性\\腎症による年間新規透析導入患者数の減少」を念頭におき、予防\\可能な疾患（虚血性心疾患、脳血管疾患、人工透析）に対しての発\\症予防・重症化予防に努める。};
\end{tikzpicture}
\end{document}
